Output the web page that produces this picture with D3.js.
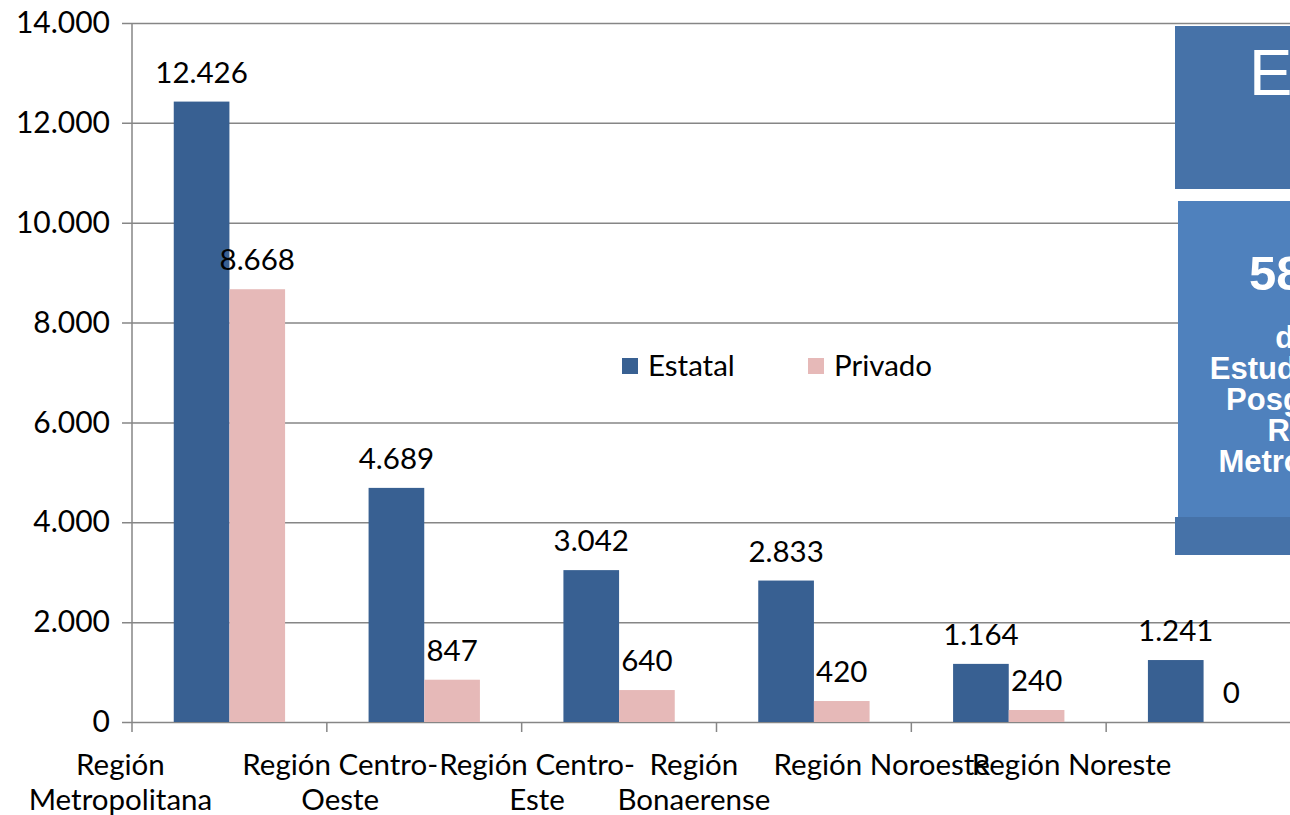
<!DOCTYPE html>
<html>
<head>
<meta charset="utf-8">
<script src="https://cdn.jsdelivr.net/npm/d3@7"></script>
<style>
  body { margin: 0; background: #fff; }
  svg { display: block; }
</style>
</head>
<body>
<div id="chart"></div>
<script>
// data
const categories = ["Región Metropolitana", "Región Centro-Oeste", "Región Centro-Este",
  "Región Bonaerense", "Región Noroeste", "Región Noreste"];
const categoryLines = [["Región", "Metropolitana"], ["Región Centro-", "Oeste"], ["Región Centro-", "Este"],
  ["Región", "Bonaerense"], ["Región Noroeste"], ["Región Noreste"]];
const series = ["Estatal", "Privado"];
const estatal = [12426, 4689, 3042, 2833, 1164, 1241];
const privado = [8668, 847, 640, 420, 240, 0];
const yTicks = [0, 2000, 4000, 6000, 8000, 10000, 12000, 14000];
const boxLines = ["de los", "Estudiantes de", "Posgrado en", "Región", "Metropolitana"];

// layout
const W = 1290, H = 815;
const plotLeft = 132, plotBottom = 722, plotTop = 23, plotRight = 1301;
// excel pushed the wrapped labels off their band centres
const labelShift = [-109, -84, -82, -120, -127, -132];
const colors = { Estatal: "#386092", Privado: "#e6b9b8" };
const font = "Lato, 'Open Sans', sans-serif";
const fs = 29.5;

const fmt = d3.formatLocale({ decimal: ",", thousands: ".", grouping: [3], currency: ["", ""] }).format(",");

const svg = d3.select("#chart").append("svg")
  .attr("width", W).attr("height", H);

const x0 = d3.scaleBand().domain(categories).range([plotLeft, plotRight]);
const x1 = d3.scaleBand().domain(series).range([0, x0.bandwidth()])
  .paddingInner(0).paddingOuter(0.75);
const y = d3.scaleLinear().domain([0, 14000]).range([plotBottom, plotTop]);

// gridlines + y axis
const yAxis = d3.axisLeft(y).tickValues(yTicks).tickFormat(fmt)
  .tickSize(-(W - plotLeft + 20)).tickPadding(22);
const gy = svg.append("g").attr("transform", `translate(${plotLeft},0)`).call(yAxis);
gy.select(".domain").remove();
gy.selectAll(".tick line").attr("x1", -10).attr("stroke", "#868686").attr("stroke-width", 1.5);
gy.selectAll(".tick text").attr("font-family", font).attr("font-size", fs + 0.5).attr("fill", "#000");
svg.append("line").attr("x1", plotLeft).attr("x2", plotLeft).attr("y1", plotTop).attr("y2", plotBottom)
  .attr("stroke", "#868686").attr("stroke-width", 1.5);

// x axis tick marks at band edges
svg.append("g").selectAll("line").data(categories).join("line")
  .attr("x1", d => x0(d)).attr("x2", d => x0(d))
  .attr("y1", plotBottom).attr("y2", plotBottom + 10)
  .attr("stroke", "#868686").attr("stroke-width", 1.5);

const rows = categories.map((c, i) => ({ cat: c, i, Estatal: estatal[i], Privado: privado[i] }));

const groups = svg.append("g").selectAll("g").data(rows).join("g")
  .attr("transform", d => `translate(${x0(d.cat)},0)`);

groups.selectAll("rect").data(d => series.map(s => ({ s, v: d[s] }))).join("rect")
  .attr("x", d => x1(d.s)).attr("width", x1.bandwidth())
  .attr("y", d => y(d.v)).attr("height", d => y(0) - y(d.v))
  .attr("fill", d => colors[d.s]);

groups.selectAll("text.val").data(d => series.map(s => ({ s, v: d[s] }))).join("text")
  .attr("class", "val")
  .attr("x", d => x1(d.s) + x1.bandwidth() / 2)
  .attr("y", d => y(d.v) - 19)
  .attr("text-anchor", "middle")
  .attr("font-family", font).attr("font-size", fs).attr("fill", "#000")
  .text(d => fmt(d.v));

// category labels
svg.append("g").selectAll("text").data(rows).join("text")
  .attr("text-anchor", "middle")
  .attr("font-family", font).attr("font-size", fs).attr("fill", "#000")
  .each(function (d) {
    const cx = x0(d.cat) + x0.bandwidth() / 2 + labelShift[d.i];
    d3.select(this).selectAll("tspan").data(categoryLines[d.i]).join("tspan")
      .attr("x", cx).attr("y", (t, k) => 775 + k * 35).text(t => t);
  });

// legend
const leg = svg.append("g").selectAll("g").data(series).join("g")
  .attr("transform", (d, i) => `translate(${622 + i * 186},358)`);
leg.append("rect").attr("width", 16).attr("height", 16).attr("fill", d => colors[d]);
leg.append("text").attr("x", 26).attr("y", 8).attr("dy", "0.35em")
  .attr("font-family", font).attr("font-size", fs).attr("fill", "#000").text(d => d);

// overlapping slide boxes at right
const boxFont = "'Liberation Sans', Arial, sans-serif";
svg.append("rect").attr("x", 1175).attr("y", 26).attr("width", 130).attr("height", 163).attr("fill", "#4672a8");
svg.append("text").attr("x", 1249).attr("y", 95).attr("font-family", boxFont)
  .attr("font-size", 65).attr("fill", "#fff").text("Estatal");
svg.append("rect").attr("x", 1175).attr("y", 517).attr("width", 130).attr("height", 38).attr("fill", "#4672a8");
svg.append("rect").attr("x", 1178).attr("y", 201).attr("width", 130).attr("height", 316).attr("fill", "#4f81bd");
svg.append("text").attr("x", 1249).attr("y", 290)
  .attr("font-family", boxFont).attr("font-weight", "bold")
  .attr("font-size", 49).attr("fill", "#fff").text("58%");
const boxCx = 1320;
svg.append("text").attr("text-anchor", "middle")
  .attr("font-family", boxFont).attr("font-weight", "bold")
  .attr("font-size", 31).attr("fill", "#fff")
  .selectAll("tspan").data(boxLines).join("tspan")
  .attr("x", boxCx).attr("y", (d, i) => 348 + i * 31).text(d => d);
</script>
</body>
</html>
